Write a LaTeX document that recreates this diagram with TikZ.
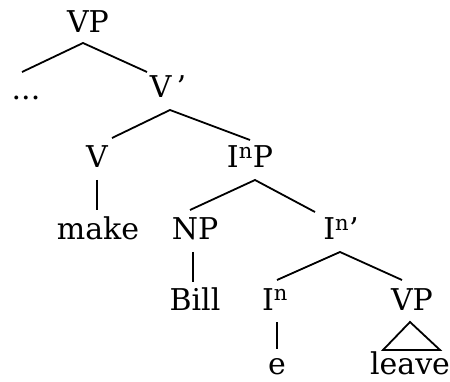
\documentclass[tikz,border=0pt]{standalone}
\usepackage{fontspec}
\setmainfont{DejaVu Serif}
\usetikzlibrary{calc}
\begin{document}
\begin{tikzpicture}[x=1pt,y=-1pt,
  lab/.style={anchor=base,inner sep=0pt,font=\fontsize{30}{36}\selectfont},
  br/.style={line width=1.8pt}]
\useasboundingbox (0,0) rectangle (450,382);
\node[lab] (vp0) at (88,33) {VP};
\node[lab] (dots) at (26,100) {...};
\node[lab] (vbar) at (168,98) {V\,’};
\node[lab] (v) at (97,168) {V};
\node[lab] (inp) at (250,168) {I\textsuperscript{n}P};
\node[lab] (make) at (98,240) {make};
\node[lab] (np) at (195,240) {NP};
\node[lab] (inbar) at (341,240) {I\textsuperscript{n}’};
\node[lab] (bill) at (195,310) {Bill};
\node[lab] (in) at (275,310) {I\textsuperscript{n}};
\node[lab] (vp1) at (412,310) {VP};
\node[lab] (e) at (277,374) {e};
\node[lab] (leave) at (410,374) {leave};
\draw[br] ($(dots.base)+(-4,-28)$) -- ($(vp0.base)+(-5,10)$) -- ($(vbar.base)+(-21,-26)$);
\draw[br] ($(v.base)+(15,-30)$) -- ($(vbar.base)+(2,12)$) -- ($(inp.base)+(0,-28)$);
\draw[br] ($(v.base)+(0,12)$) -- ($(make.base)+(-1,-30)$);
\draw[br] ($(np.base)+(-5,-30)$) -- ($(inp.base)+(5,12)$) -- ($(inbar.base)+(-26,-28)$);
\draw[br] ($(np.base)+(-2,12)$) -- ($(bill.base)+(-2,-28)$);
\draw[br] ($(in.base)+(2,-30)$) -- ($(inbar.base)+(-1,12)$) -- ($(vp1.base)+(-10,-30)$);
\draw[br] ($(in.base)+(2,12)$) -- ($(e.base)+(0,-25)$);
\draw[br,line join=miter] ($(vp1.base)+(-2,12)$) -- ($(leave.base)+(-27,-24)$) -- ($(leave.base)+(30,-24)$) -- cycle;
\end{tikzpicture}
\end{document}
